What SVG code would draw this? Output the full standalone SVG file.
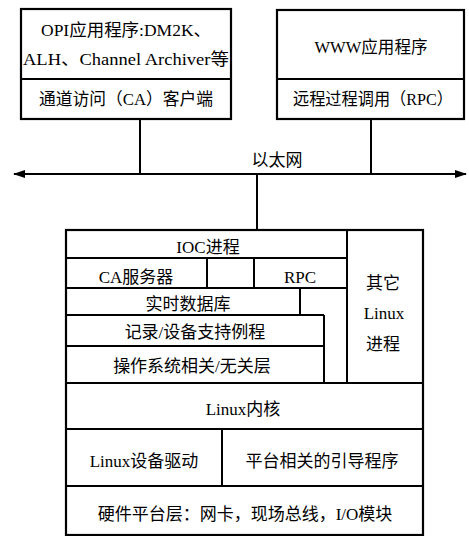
<svg xmlns="http://www.w3.org/2000/svg" width="469" height="536" viewBox="0 0 469 536">
<defs>
<style>
.b{fill:#fff;stroke:#000;stroke-width:2.2}
.l{fill:none;stroke:#000;stroke-width:2}
text{font-family:"Liberation Serif","Noto Sans CJK SC",serif;font-size:17px;fill:#000;text-anchor:middle}
</style>
<marker id="ah" viewBox="0 0 12 8" refX="11" refY="4" markerWidth="12" markerHeight="8" markerUnits="userSpaceOnUse" orient="auto-start-reverse">
<path d="M0,0 L12,4 L0,8 Z" fill="#000"/>
</marker>
</defs>
<rect width="469" height="536" fill="#fff"/>
<g id="connectors">
<line class="l" x1="140" y1="119" x2="140" y2="174"/>
<line class="l" x1="371" y1="119" x2="371" y2="174"/>
<line class="l" x1="257" y1="174" x2="257" y2="230"/>
<line class="l" x1="14" y1="174" x2="466" y2="174" marker-start="url(#ah)" marker-end="url(#ah)"/>
<text x="277" y="166">以太网</text>
</g>
<g id="opi">
<rect class="b" x="21" y="9" width="210" height="110"/>
<line class="l" x1="21" y1="79" x2="231" y2="79"/>
<text x="126" y="36" textLength="170" lengthAdjust="spacingAndGlyphs">OPI应用程序:DM2K、</text>
<text x="126" y="65" textLength="206" lengthAdjust="spacingAndGlyphs">ALH、Channel Archiver等</text>
<text x="126" y="105" textLength="174" lengthAdjust="spacingAndGlyphs">通道访问（CA）客户端</text>
</g>
<g id="www">
<rect class="b" x="277" y="10" width="187" height="109"/>
<line class="l" x1="277" y1="79" x2="464" y2="79"/>
<text x="371" y="53" textLength="113" lengthAdjust="spacingAndGlyphs">WWW应用程序</text>
<text x="373" y="105" textLength="160" lengthAdjust="spacingAndGlyphs">远程过程调用（RPC）</text>
</g>
<g id="ioc-stack">
<rect class="b" x="66" y="230" width="357" height="305"/>
<line class="l" x1="347" y1="230" x2="347" y2="383"/>
<line class="l" x1="66" y1="258" x2="347" y2="258"/>
<line class="l" x1="66" y1="288" x2="347" y2="288"/>
<line class="l" x1="207" y1="258" x2="207" y2="288"/>
<line class="l" x1="254" y1="258" x2="254" y2="288"/>
<line class="l" x1="300" y1="288" x2="300" y2="315"/>
<line class="l" x1="66" y1="315" x2="324" y2="315"/>
<line class="l" x1="324" y1="315" x2="324" y2="383"/>
<line class="l" x1="66" y1="346" x2="324" y2="346"/>
<line class="l" x1="66" y1="383" x2="423" y2="383"/>
<line class="l" x1="66" y1="429" x2="423" y2="429"/>
<line class="l" x1="222" y1="429" x2="222" y2="486"/>
<line class="l" x1="66" y1="486" x2="423" y2="486"/>
</g>
<g id="ioc"><text x="208" y="253">IOC进程</text></g>
<g id="ca-server"><text x="136" y="283">CA服务器</text></g>
<g id="rpc"><text x="300" y="283">RPC</text></g>
<g id="rtdb"><text x="188" y="310">实时数据库</text></g>
<g id="record"><text x="195" y="338">记录/设备支持例程</text></g>
<g id="os"><text x="192" y="372">操作系统相关/无关层</text></g>
<g id="other"><text x="383" y="289">其它</text><text x="384" y="319">Linux</text><text x="383" y="350">进程</text></g>
<g id="kernel"><text x="243" y="415">Linux内核</text></g>
<g id="driver"><text x="144" y="467">Linux设备驱动</text></g>
<g id="boot"><text x="322" y="467">平台相关的引导程序</text></g>
<g id="hw"><text x="245" y="520">硬件平台层：网卡，现场总线，I/O模块</text></g>
</svg>
